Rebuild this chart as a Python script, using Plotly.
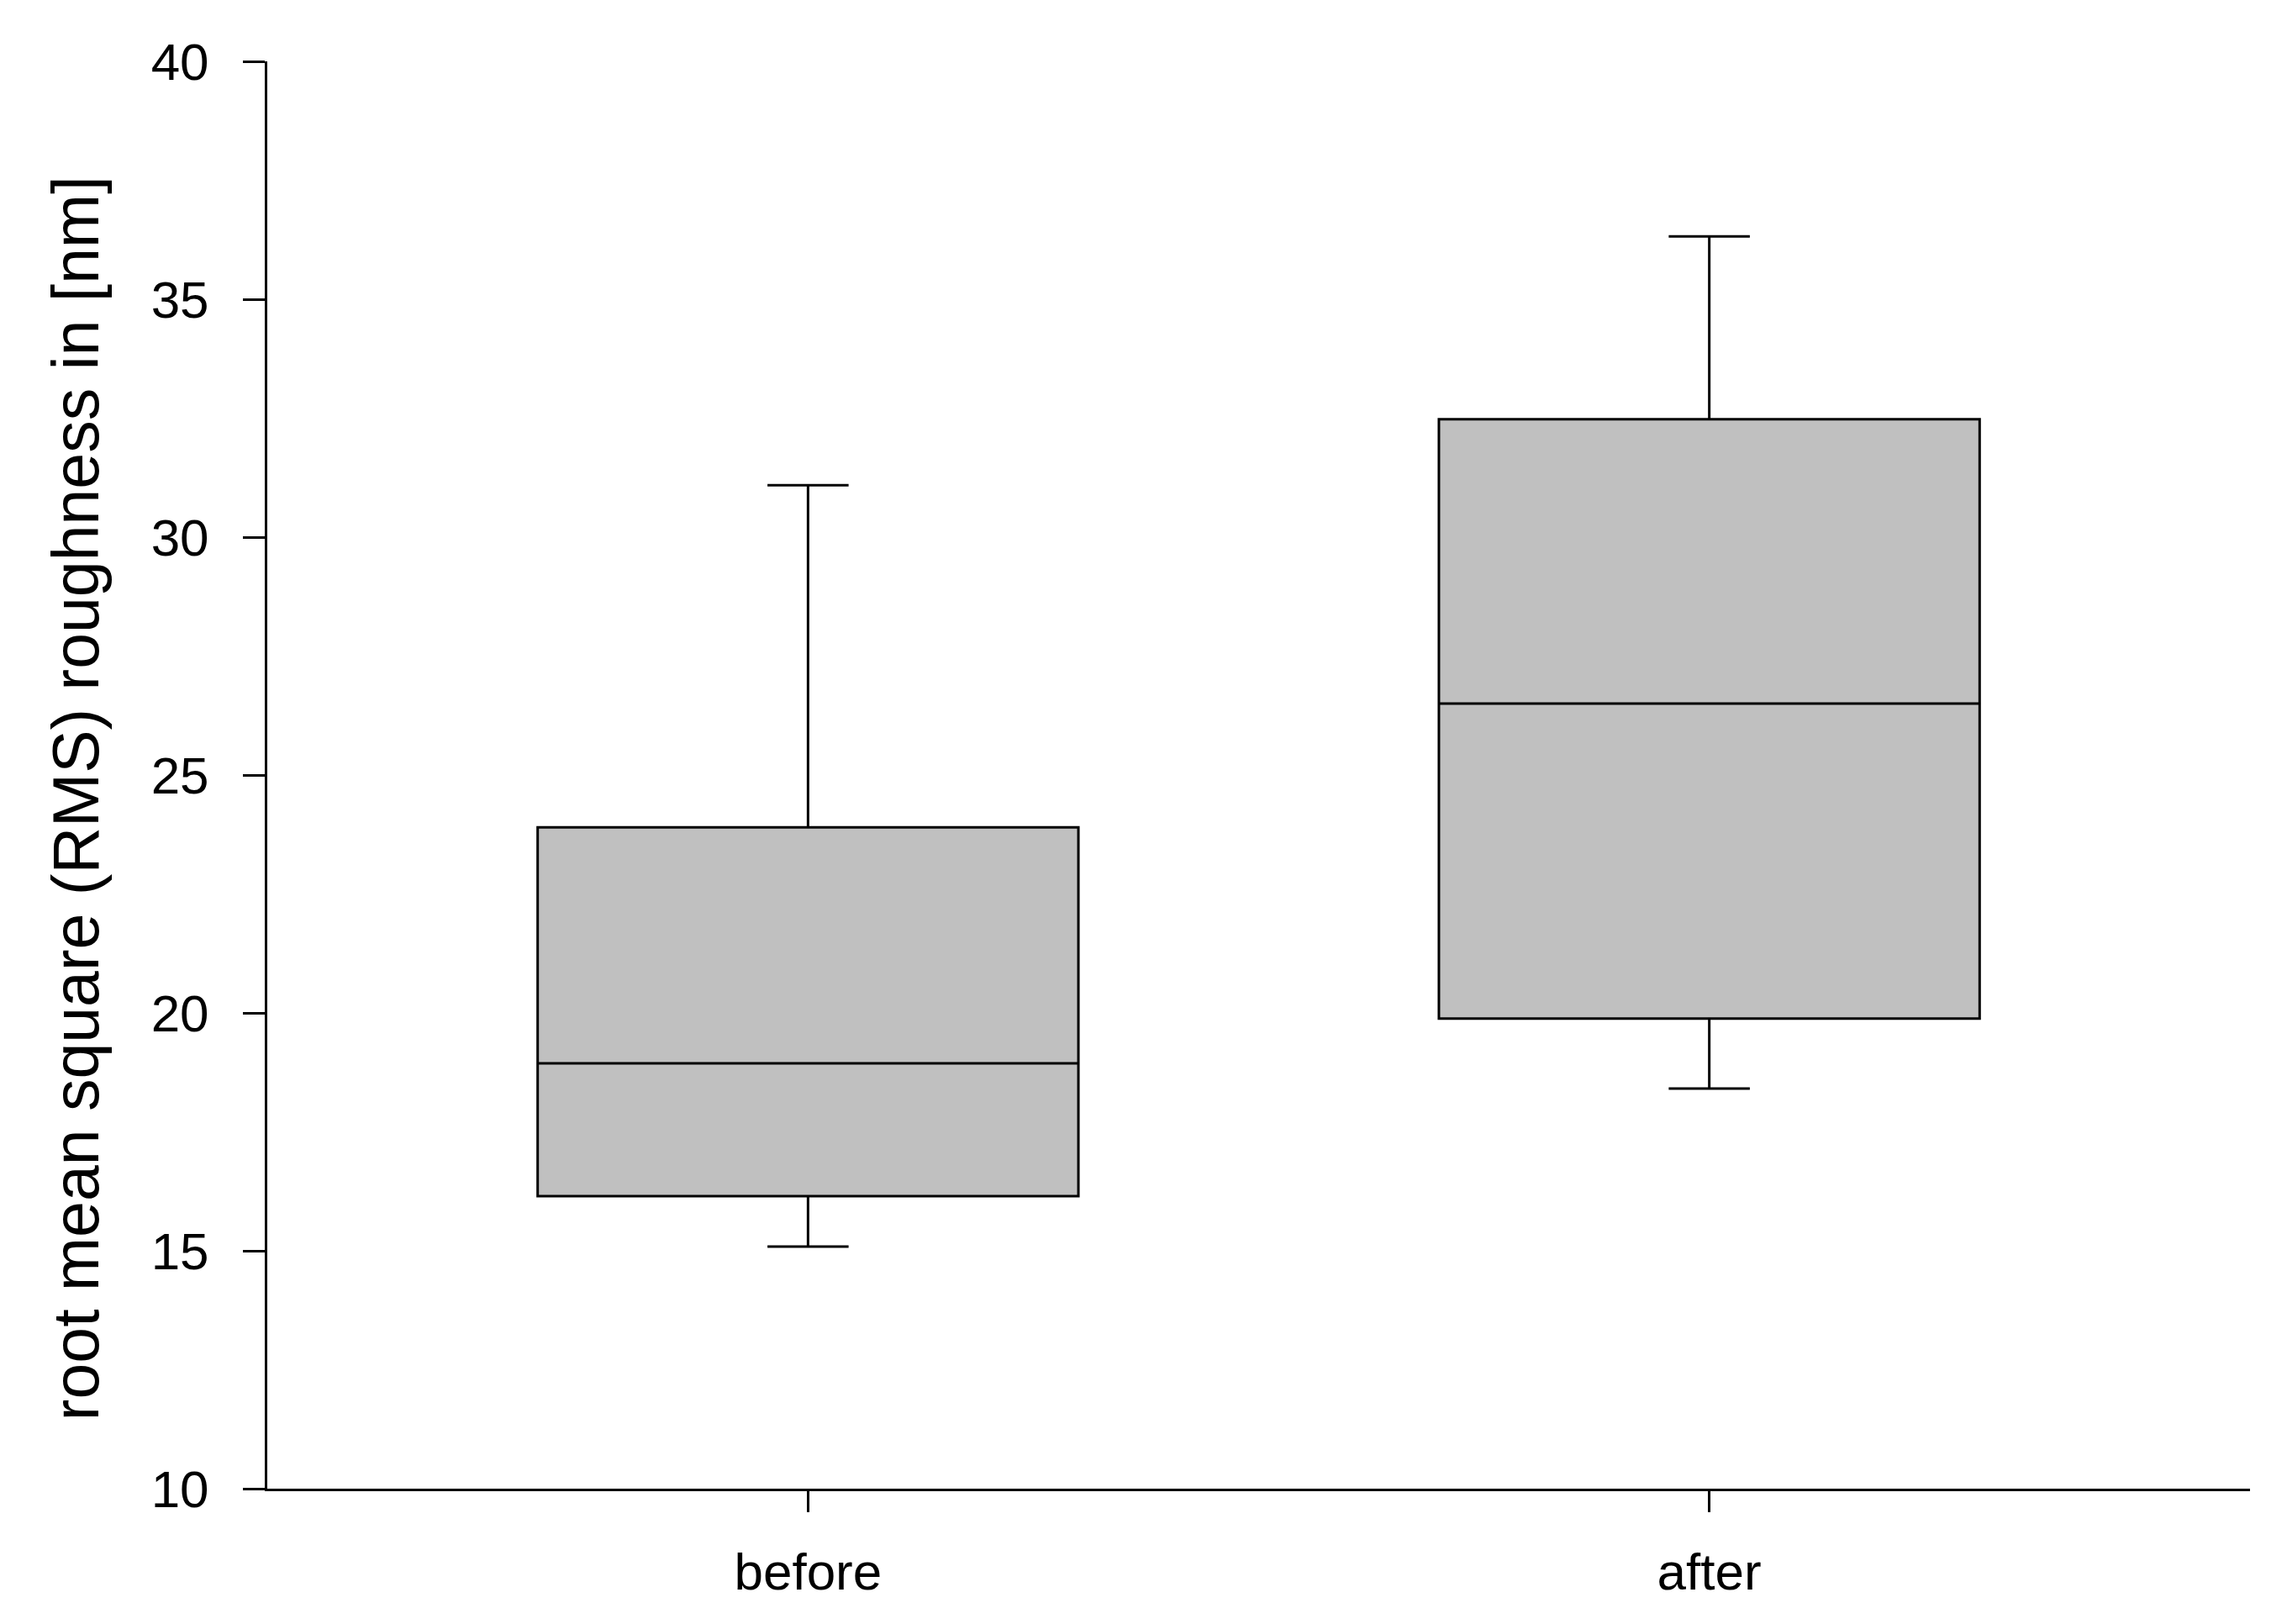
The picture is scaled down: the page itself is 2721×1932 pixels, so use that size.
import plotly.graph_objects as go

categories = ["before", "after"]
q1 = [16.15, 19.88]
median = [18.94, 26.50]
q3 = [23.90, 32.48]
lower_whisker = [15.09, 18.41]
upper_whisker = [31.09, 36.32]

y_ticks = [10, 15, 20, 25, 30, 35, 40]
y_title = "root mean square (RMS) roughness in [nm]"

fig = go.Figure()
fig.add_trace(go.Box(
    x=categories,
    q1=q1,
    median=median,
    q3=q3,
    lowerfence=lower_whisker,
    upperfence=upper_whisker,
    width=0.6,
    whiskerwidth=0.15,
    fillcolor="#c0c0c0",
    line=dict(color="black", width=3),
    boxpoints=False,
    hoverinfo="skip",
    showlegend=False,
))

font_family = "Liberation Sans, Arial, sans-serif"

fig.update_layout(
    width=2721,
    height=1932,
    margin=dict(l=310, r=52, t=65, b=169),
    paper_bgcolor="white",
    plot_bgcolor="white",
    font=dict(family=font_family, color="black", size=62),
    xaxis=dict(
        type="category",
        range=[-0.6, 1.6],
        showline=True,
        linecolor="black",
        linewidth=3,
        ticks="outside",
        ticklen=25,
        tickwidth=3,
        tickcolor="black",
        showgrid=False,
        zeroline=False,
        tickfont=dict(size=62, family=font_family, color="black"),
        ticklabelstandoff=18,
    ),
    yaxis=dict(
        range=[10, 40],
        tickvals=y_ticks,
        showline=True,
        linecolor="black",
        linewidth=3,
        ticks="outside",
        ticklen=26,
        tickwidth=3,
        tickcolor="black",
        showgrid=False,
        zeroline=False,
        tickfont=dict(size=62, family=font_family, color="black"),
        ticklabelstandoff=28,
    ),
    annotations=[dict(
        text=y_title,
        textangle=-90,
        xref="paper", yref="paper",
        x=-0.0966, y=0.4835,
        xanchor="center", yanchor="middle",
        showarrow=False,
        font=dict(size=77, family=font_family, color="black"),
    )],
)

fig.write_html("out.html")
